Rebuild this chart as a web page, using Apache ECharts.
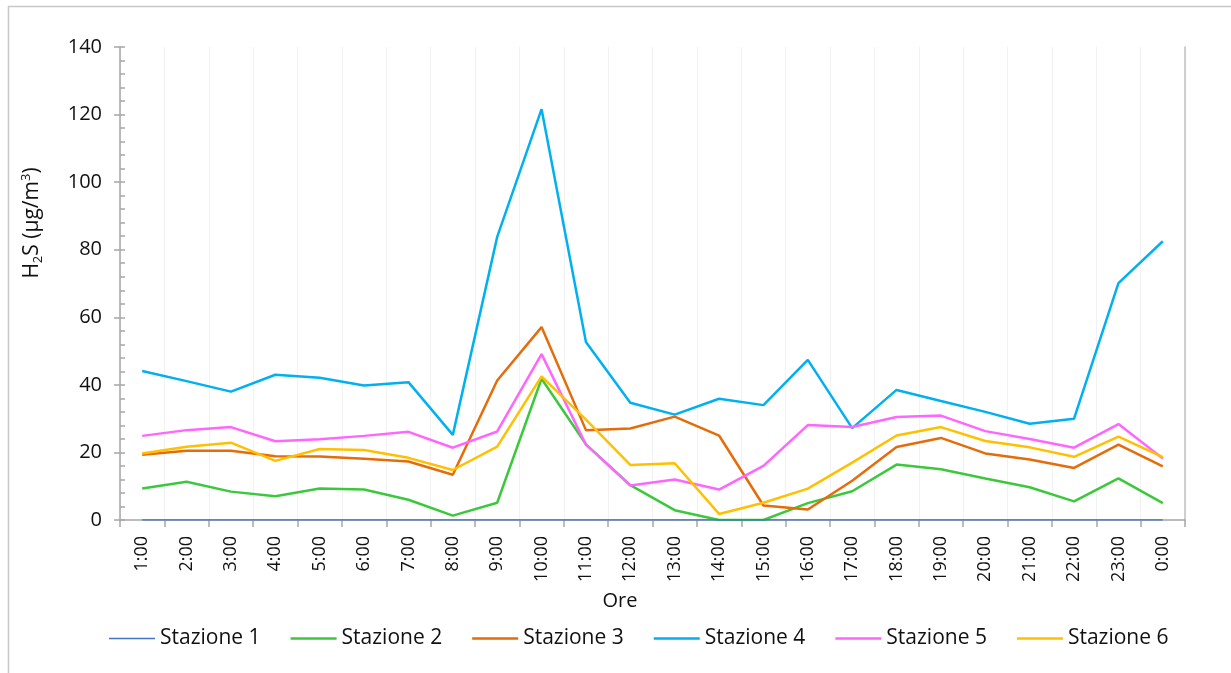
<!DOCTYPE html>
<html>
<head>
<meta charset="utf-8">
<script src="https://cdn.jsdelivr.net/npm/echarts@6/dist/echarts.min.js"></script>
<style>
html,body{margin:0;padding:0;background:#fff;}
#chart{width:1231px;height:673px;}
</style>
</head>
<body>
<div id="chart"></div>
<script>
const categories = ['1:00','2:00','3:00','4:00','5:00','6:00','7:00','8:00','9:00','10:00','11:00','12:00','13:00','14:00','15:00','16:00','17:00','18:00','19:00','20:00','21:00','22:00','23:00','0:00'];
const yTicks = [0, 20, 40, 60, 80, 100, 120, 140];

const stazione1 = [0,0,0,0,0,0,0,0,0,0,0,0,0,0,0,0,0,0,0,0,0,0,0,0];
const stazione2 = [9.3,11.3,8.4,7.0,9.3,9.0,6.0,1.3,5.1,41.8,22.4,10.3,2.9,0,0,5.0,8.5,16.4,15.0,12.3,9.7,5.5,12.3,5.0];
const stazione3 = [19.3,20.5,20.5,18.9,18.8,18.1,17.3,13.4,41.3,57.1,26.6,27.1,30.6,25.0,4.3,3.1,11.6,21.6,24.3,19.7,17.9,15.4,22.3,15.9];
const stazione4 = [44.1,41.1,38.0,43.0,42.1,39.8,40.8,25.2,83.8,121.6,52.7,34.7,31.2,35.9,34.0,47.4,27.2,38.5,35.2,32.0,28.5,30.0,70.1,82.5];
const stazione5 = [24.9,26.6,27.5,23.3,23.9,24.9,26.1,21.4,26.2,49.1,22.3,10.2,12.0,9.0,16.0,28.1,27.5,30.5,30.9,26.3,24.0,21.4,28.4,18.2];
const stazione6 = [19.7,21.7,22.9,17.5,21.0,20.7,18.4,14.8,21.7,42.5,29.7,16.3,16.8,1.8,5.1,9.3,17.0,25.0,27.5,23.4,21.5,18.7,24.7,18.6];

const seriesNames = ['Stazione 1','Stazione 2','Stazione 3','Stazione 4','Stazione 5','Stazione 6'];
const seriesData = [stazione1, stazione2, stazione3, stazione4, stazione5, stazione6];
const colors = ['#4472C4','#3CC83C','#E46C0A','#00B0F0','#FF66FF','#FFC000'];
const widths = [1.5, 2.5, 2.5, 2.5, 2.5, 2.5];

const FONT = '"Open Sans", "Noto Sans", sans-serif';
const TXT = '#111111';

// legend line icons (thin one for Stazione 1)
const THICK_ICON = 'path://M0,0 L1,0 M0,1 L46,1 L46,3.6 L0,3.6 Z M0,4.6 L1,4.6';
const THIN_ICON = 'path://M0,0 L1,0 M0,1.6 L46,1.6 L46,3.0 L0,3.0 Z M0,4.6 L1,4.6';

const chart = echarts.init(document.getElementById('chart'), null, {renderer: 'canvas'});

const option = {
  animation: false,
  backgroundColor: '#ffffff',
  textStyle: {fontFamily: FONT, color: TXT},
  grid: {left: 120, right: 46, top: 47, bottom: 153, containLabel: false},
  legend: {
    left: 104,
    top: 623,
    itemWidth: 46,
    itemHeight: 5,
    itemGap: 30,
    data: seriesNames.map((n, i) => ({name: n, icon: i === 0 ? THIN_ICON : THICK_ICON, itemStyle: {color: colors[i], borderWidth: 0}})),
    textStyle: {fontFamily: FONT, fontSize: 21, color: TXT}
  },
  xAxis: {
    type: 'category',
    data: categories,
    boundaryGap: true,
    axisLine: {show: true, lineStyle: {color: '#a6a6a6', width: 1.5}},
    axisTick: {show: true, interval: 0, length: 7, lineStyle: {color: '#a6a6a6', width: 1.5}},
    splitLine: {show: true, interval: 0, lineStyle: {color: '#f2f2f2', width: 1}},
    axisLabel: {interval: 0, rotate: 90, margin: 16, fontSize: 18, fontFamily: FONT, color: TXT}
  },
  yAxis: [
    {
      type: 'value',
      min: yTicks[0],
      max: yTicks[yTicks.length - 1],
      interval: 20,
      position: 'left',
      axisLine: {show: true, lineStyle: {color: '#a6a6a6', width: 1.5}},
      axisTick: {show: true, length: 6, lineStyle: {color: '#a6a6a6', width: 1.5}},
      splitLine: {show: false},
      axisLabel: {margin: 18, fontSize: 20, fontFamily: FONT, color: TXT}
    },
    {
      type: 'value',
      min: 0,
      max: 140,
      interval: 4,
      position: 'left',
      axisLine: {show: false},
      axisTick: {show: true, inside: true, length: 5, lineStyle: {color: '#a6a6a6', width: 1.5}},
      splitLine: {show: false},
      axisLabel: {show: false}
    },
    {
      type: 'value',
      min: 0,
      max: 140,
      interval: 20,
      position: 'right',
      axisLine: {show: true, lineStyle: {color: '#bfbfbf', width: 1.5}},
      axisTick: {show: false},
      splitLine: {show: false},
      axisLabel: {show: false}
    }
  ],
  series: seriesNames.map((n, i) => ({
    name: n,
    type: 'line',
    data: seriesData[i],
    yAxisIndex: 0,
    symbol: 'none',
    showSymbol: false,
    smooth: false,
    z: i === 0 ? 3 : 2,
    lineStyle: {color: colors[i], width: widths[i]},
    itemStyle: {color: colors[i]}
  })),
  graphic: [
    {
      type: 'rect',
      silent: true,
      z: -10,
      shape: {x: 8.5, y: 6.5, width: 1400, height: 1000},
      style: {fill: 'none', stroke: '#c8c8c8', lineWidth: 1.5}
    },
    {
      type: 'text',
      x: 620,
      y: 601,
      style: {
        text: 'Ore',
        fontFamily: FONT,
        fontSize: 20,
        fill: TXT,
        align: 'center',
        verticalAlign: 'middle'
      }
    },
    {
      type: 'text',
      x: 32,
      y: 223,
      rotation: Math.PI / 2,
      style: {
        text: '{n|H}{sub|2}{n|S (µg/m}{sup|3}{n|)}',
        align: 'center',
        verticalAlign: 'middle',
        fill: TXT,
        rich: {
          n: {fontFamily: FONT, fontSize: 21, fill: TXT, lineHeight: 30, verticalAlign: 'middle'},
          sub: {fontFamily: FONT, fontSize: 13, fill: TXT, lineHeight: 30, verticalAlign: 'bottom', padding: [0, 0, 2, 0]},
          sup: {fontFamily: FONT, fontSize: 13, fill: TXT, lineHeight: 30, verticalAlign: 'top', padding: [3, 0, 0, 0]}
        }
      }
    }
  ]
};

chart.setOption(option);
</script>
</body>
</html>
